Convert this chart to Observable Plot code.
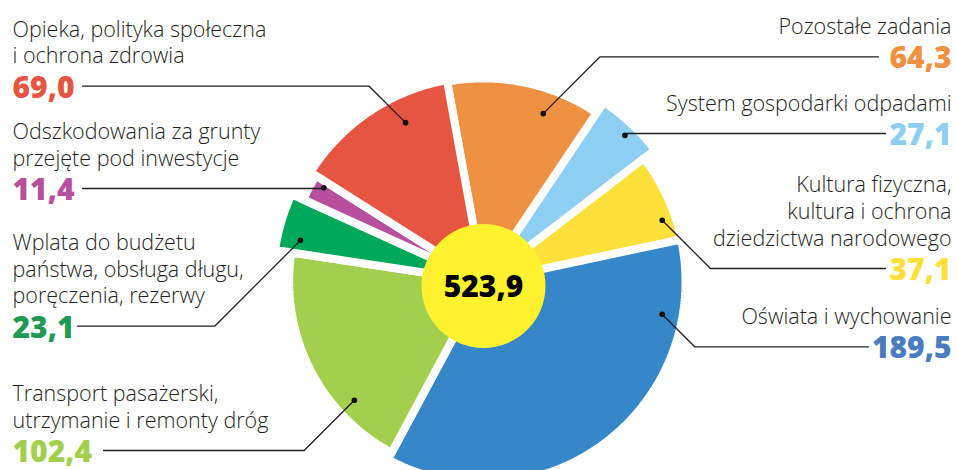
<!DOCTYPE html>
<html>
<head>
<meta charset="utf-8">
<script src="https://cdn.jsdelivr.net/npm/d3@7"></script>
<script src="https://cdn.jsdelivr.net/npm/@observablehq/plot@0.6"></script>
<style>
  html, body { margin: 0; padding: 0; background: #fff; overflow: hidden; }
  #chart svg { display: block; overflow: hidden; }
</style>
</head>
<body>
<div id="chart"></div>
<script>
// ---- data (pie order, clockwise from the top) ----
const categories = [
  "Pozostałe zadania",
  "System gospodarki odpadami",
  "Kultura fizyczna,\nkultura i ochrona\ndziedzictwa narodowego",
  "Oświata i wychowanie",
  "Transport pasażerski,\nutrzymanie i remonty dróg",
  "Wplata do budżetu\npaństwa, obsługa długu,\nporęczenia, rezerwy",
  "Odszkodowania za grunty\nprzejęte pod inwestycje",
  "Opieka, polityka społeczna\ni ochrona zdrowia"
];
const values = [64.3, 27.1, 37.1, 189.5, 102.4, 23.1, 11.4, 69.0];
const valueLabels = ["64,3", "27,1", "37,1", "189,5", "102,4", "23,1", "11,4", "69,0"];
const totalLabel = "523,9";

// ---- styles / layout ----
const sliceColors = ["#ee9140", "#8ccff2", "#fde03a", "#3687c8", "#a2cf4e", "#00a859", "#b84f9e", "#e5553f"];
const valueColors = ["#ee9140", "#8ccff2", "#fde03a", "#4a7cc2", "#a2cf4e", "#1f9a55", "#b84f9e", "#e5553f"];
const sliceRadii = [203.1, 216.1, 202.3, 202.0, 194.3, 210.8, 198.1, 204.7];
const labelSide = ["right", "right", "right", "right", "left", "left", "left", "left"];
const labelBaseline = [33.3, 110, 245, 323.3, 427, 302.7, 165, 62.7];
const lineEndX = [878, 885, 885, 868, 103, 77, 82, 82];
const dotAngle = [19.1, 43.2, 69.8, 99.0, 228.5, 284.0, 301.6, 334.5];
const dotRadius = [182.4, 206.6, 190.4, 180.9, 172.4, 188.6, 187.5, 181.0];

const W = 957, H = 470;
const cx = 483, cy = 285.5;      // centre circle
const pieCy = 281;               // pie slices centre
const startAngle = -10.3;
const gap = 8;
const leftX = 12, rightX = 951;
const font = "'Open Sans', 'Noto Sans', sans-serif";
const labelSize = 21.5, labelLine = 26.7 / 21.5;

// slice polygons
const sum = d3.sum(values);
const slicePts = [];
let acc = startAngle;
values.forEach((v, i) => {
  const a0 = acc, a1 = acc + v / sum * 360;
  acc = a1;
  const R = sliceRadii[i];
  slicePts.push({k: i, x: cx, y: pieCy, c: sliceColors[i]});
  const n = Math.max(2, Math.ceil((a1 - a0) / 0.5));
  for (let j = 0; j <= n; j++) {
    const a = (a0 + (a1 - a0) * j / n) * Math.PI / 180;
    slicePts.push({k: i, x: cx + R * Math.sin(a), y: pieCy - R * Math.cos(a), c: sliceColors[i]});
  }
});

// leader lines and labels
const dots = [], leaders = [], labels = [], valuesTxt = [];
categories.forEach((cat, i) => {
  const a = dotAngle[i] * Math.PI / 180;
  const dx = cx + dotRadius[i] * Math.sin(a), dy = cy - dotRadius[i] * Math.cos(a);
  const valueY = labelBaseline[i] + 34.5;
  const lineY = valueY - 11.5;
  const right = labelSide[i] === "right";
  const ex = right ? dx + Math.abs(lineY - dy) : dx - Math.abs(lineY - dy);
  dots.push({x: dx, y: dy});
  leaders.push({k: i, x: dx, y: dy}, {k: i, x: ex, y: lineY}, {k: i, x: lineEndX[i], y: lineY});
  labels.push({text: cat, x: right ? rightX : leftX, y: labelBaseline[i], anchor: right ? "end" : "start"});
  valuesTxt.push({text: valueLabels[i], x: right ? rightX : leftX, y: valueY, anchor: right ? "end" : "start", c: valueColors[i]});
});

const leftLabels = labels.filter(d => d.anchor === "start");
const rightLabels = labels.filter(d => d.anchor === "end");
const leftVals = valuesTxt.filter(d => d.anchor === "start");
const rightVals = valuesTxt.filter(d => d.anchor === "end");

const chart = Plot.plot({
  width: W,
  height: H,
  margin: 0,
  x: {domain: [0, W], range: [0, W], axis: null},
  y: {domain: [0, H], range: [0, H], axis: null},
  color: {type: "identity"},
  style: {fontFamily: font, background: "#fff"},
  marks: [
    Plot.line(slicePts, {x: "x", y: "y", z: "k", fill: "c", stroke: "#fff", strokeWidth: gap, curve: "linear-closed", strokeLinejoin: "miter"}),
    Plot.line(leaders, {x: "x", y: "y", z: "k", stroke: "#231f20", strokeWidth: 1.3}),
    Plot.dot(dots, {x: "x", y: "y", r: 2.8, fill: "#111", stroke: null}),
    Plot.dot([{x: cx, y: cy}], {x: "x", y: "y", r: 62, fill: "#fef22f", stroke: null}),
    Plot.text([{x: cx, y: cy + 11, t: totalLabel}], {x: "x", y: "y", text: "t", fontSize: 30, fontWeight: 800, fill: "#000", lineAnchor: "bottom", textAnchor: "middle", fontFamily: font}),
    Plot.text(leftLabels, {x: "x", y: "y", text: "text", textAnchor: "start", lineAnchor: "bottom", fontSize: labelSize, fontWeight: 300, lineHeight: labelLine, fill: "#231f20", fontFamily: font}),
    Plot.text(rightLabels, {x: "x", y: "y", text: "text", textAnchor: "end", lineAnchor: "bottom", fontSize: labelSize, fontWeight: 300, lineHeight: labelLine, fill: "#231f20", fontFamily: font}),
    Plot.text(leftVals, {x: "x", y: "y", text: "text", textAnchor: "start", lineAnchor: "bottom", fontSize: 30, fontWeight: 800, fill: "c", fontFamily: font}),
    Plot.text(rightVals, {x: "x", y: "y", text: "text", textAnchor: "end", lineAnchor: "bottom", fontSize: 30, fontWeight: 800, fill: "c", fontFamily: font})
  ]
});
document.getElementById("chart").appendChild(chart);
</script>
</body>
</html>
